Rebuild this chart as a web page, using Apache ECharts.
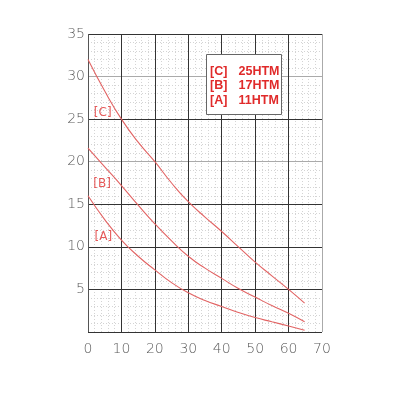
<!DOCTYPE html>
<html>
<head>
<meta charset="utf-8">
<script src="https://cdn.jsdelivr.net/npm/echarts@6/dist/echarts.min.js"></script>
<style>
  html, body { margin: 0; padding: 0; background: #fff; }
  #chart { width: 400px; height: 398px; }
</style>
</head>
<body>
<div id="chart"></div>
<script>
// flow values
const flowX = [0, 5, 10, 15, 20, 25, 30, 35, 40, 45, 50, 55, 60, 64.8]
const curveC = [32, 28.3, 25, 22.3, 20, 17.5, 15.3, 13.5, 11.8, 10, 8.2, 6.6, 5, 3.4]
const curveB = [21.6, 19.4, 17.2, 14.9, 12.7, 10.7, 8.9, 7.5, 6.3, 5.1, 4.1, 3.1, 2.2, 1.2]
const curveA = [16, 13.2, 10.8, 8.9, 7.3, 5.8, 4.6, 3.7, 3.0, 2.3, 1.7, 1.2, 0.7, 0.2]

// curve tags placed next to the left axis
const tagNames = ['[C]', '[B]', '[A]']
const tagX = [4.4, 4.2, 4.6]
const tagY = [25.7, 17.4, 11.2]

// legend box text
const legendTags = ['[C]', '[B]', '[A]']
const legendModels = ['25HTM', '17HTM', '11HTM']

const red = '#e02a2a'
const curveColor = '#e26464'

function pairs(xs, ys) {
    return xs.map((x, i) => [x, ys[i]])
}

const chart = echarts.init(document.getElementById('chart'))

const lineSeries = [curveC, curveB, curveA].map(ys => ({
    type: 'line',
    xAxisIndex: 1,
    yAxisIndex: 1,
    data: pairs(flowX, ys),
    smooth: true,
    showSymbol: false,
    silent: true,
    lineStyle: { color: curveColor, width: 1.1 },
    z: 5
}))

const legendGraphic = [{
    type: 'rect',
    shape: { x: 206.5, y: 54.5, width: 75, height: 60 },
    style: { fill: '#fff', stroke: '#666', lineWidth: 1 },
    z: 10
}]
legendTags.forEach((t, i) => {
    const y = 71.5 + i * 14.5
    legendGraphic.push({
        type: 'text', x: 210, y: y, z: 11,
        style: { text: t, fill: red, font: 'bold 12.5px "Liberation Sans"', textVerticalAlign: 'middle' }
    })
    legendGraphic.push({
        type: 'text', x: 238.5, y: y, z: 11,
        style: { text: legendModels[i], fill: red, font: 'bold 12.5px "Liberation Sans"', textVerticalAlign: 'middle' }
    })
})

const tickFont = { color: '#5a5a5a', fontSize: 14, fontFamily: 'DejaVu Sans', fontWeight: 200 }
const fineGrid = { show: true, lineStyle: { color: '#d4d4d4', type: [1, 2], width: 1 } }
const hidden = { axisLine: { show: false }, axisTick: { show: false }, axisLabel: { show: false } }

chart.setOption({
    animation: false,
    grid: { left: 88, right: 78, top: 34, bottom: 66, containLabel: false },
    xAxis: [
        // fine dotted grid, drawn underneath
        { type: 'value', min: 0, max: 70, interval: 2, position: 'bottom', z: 0, ...hidden, splitLine: fineGrid },
        {
            type: 'value', min: 0, max: 70, interval: 10, position: 'bottom', z: 1,
            axisLine: { show: false }, axisTick: { show: false },
            axisLabel: { ...tickFont, margin: 10 },
            splitLine: {
                show: true,
                lineStyle: { width: 1, color: ['#555', '#333', '#333', '#333', '#333', '#333', '#333', '#aaa'] }
            }
        }
    ],
    yAxis: [
        { type: 'value', min: 0, max: 35, interval: 1, position: 'left', z: 0, ...hidden, splitLine: fineGrid },
        {
            type: 'value', min: 0, max: 35, interval: 5, position: 'left', z: 1,
            axisLine: { show: false }, axisTick: { show: false },
            axisLabel: {
                ...tickFont, margin: 3,
                formatter: v => (v === 0 ? '' : v)
            },
            splitLine: {
                show: true,
                lineStyle: { width: 1, color: ['#333', '#333', '#333', '#333', '#aaa', '#333', '#aaa', '#333'] }
            }
        }
    ],
    series: [
        ...lineSeries,
        {
            type: 'scatter',
            xAxisIndex: 1,
            yAxisIndex: 1,
            symbolSize: 0,
            silent: true,
            data: tagNames.map((n, i) => ({ value: [tagX[i], tagY[i]], name: n })),
            label: {
                show: true, position: 'inside', formatter: '{b}',
                color: '#e03030', fontSize: 12, fontFamily: 'DejaVu Sans'
            },
            z: 6
        }
    ],
    graphic: legendGraphic
})
</script>
</body>
</html>
